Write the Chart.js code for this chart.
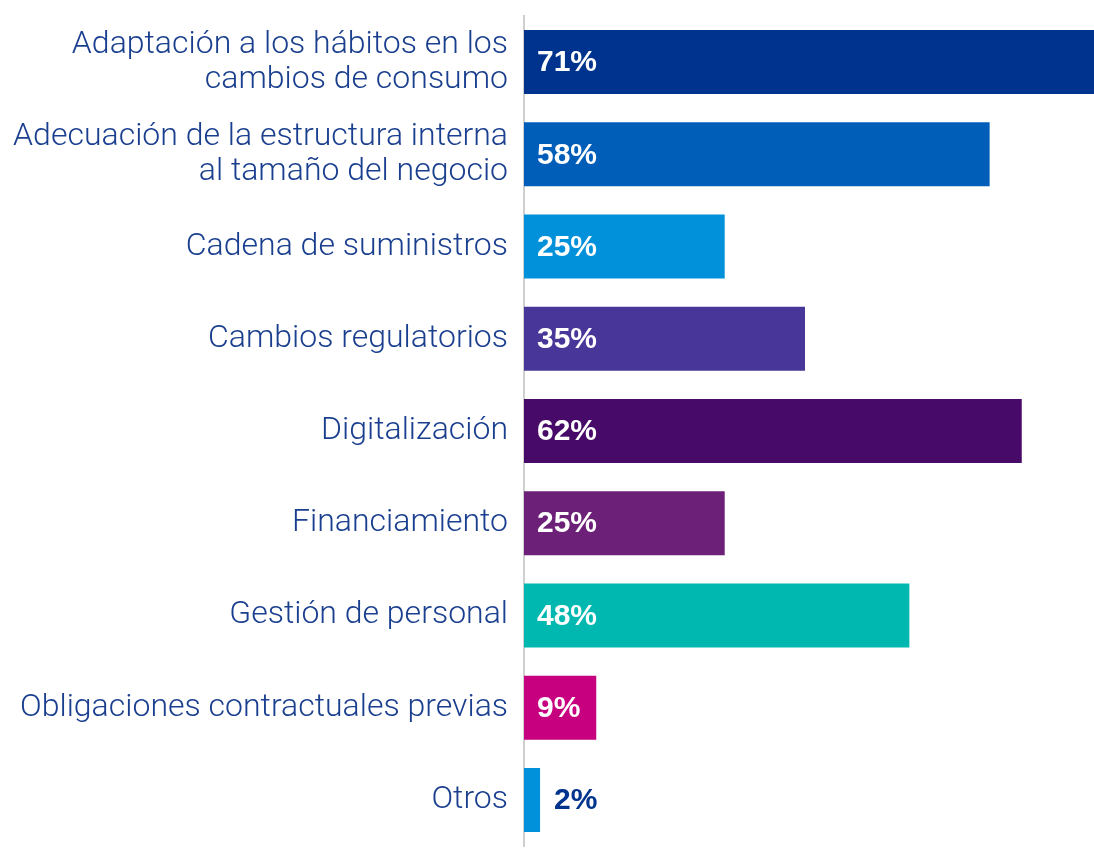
<!DOCTYPE html>
<html>
<head>
<meta charset="utf-8">
<script src="https://cdn.jsdelivr.net/npm/chart.js@4"></script>
<style>
  html, body { margin: 0; padding: 0; background: #fff; }
  #wrap { width: 1094px; height: 851px; position: relative; }
</style>
</head>
<body>
<div id="wrap"><canvas id="chart"></canvas></div>
<script>
// categories and values
const categories = [
  ['Adaptación a los hábitos en los', 'cambios de consumo'],
  ['Adecuación de la estructura interna', 'al tamaño del negocio'],
  'Cadena de suministros',
  'Cambios regulatorios',
  'Digitalización',
  'Financiamiento',
  'Gestión de personal',
  'Obligaciones contractuales previas',
  'Otros'
];
const values = [71, 58, 25, 35, 62, 25, 48, 9, 2];
const barColors = ['#00338D', '#005EB8', '#0091DA', '#483698', '#470A68', '#6D2077', '#00B8B0', '#C6007E', '#0091DA'];

const labelColor = '#1a3f8f';

// value labels: inside the bar in white, outside in navy when the bar is too short
const valueLabels = {
  id: 'valueLabels',
  afterDatasetsDraw(chart) {
    const ctx = chart.ctx;
    const meta = chart.getDatasetMeta(0);
    ctx.save();
    ctx.font = 'bold 30px "Liberation Sans", Arial';
    ctx.textBaseline = 'middle';
    ctx.textAlign = 'left';
    meta.data.forEach((bar, i) => {
      const text = values[i] + '%';
      const w = ctx.measureText(text).width;
      const left = bar.base;
      if (bar.x - left > w + 16) {
        ctx.fillStyle = '#fff';
        ctx.fillText(text, left + 13, bar.y + 1);
      } else {
        ctx.fillStyle = '#00338D';
        ctx.fillText(text, bar.x + 14, bar.y + 1);
      }
    });
    ctx.restore();
  }
};

const ctx = document.getElementById('chart').getContext('2d');
new Chart(ctx, {
  type: 'bar',
  data: {
    labels: categories,
    datasets: [{
      data: values,
      backgroundColor: barColors,
      borderWidth: 0,
      barPercentage: 0.694,
      categoryPercentage: 1.0
    }]
  },
  options: {
    indexAxis: 'y',
    responsive: true,
    maintainAspectRatio: false,
    animation: false,
    layout: { padding: { top: 16, bottom: 5, left: 0, right: 0 } },
    plugins: {
      legend: { display: false },
      tooltip: { enabled: false }
    },
    scales: {
      x: {
        display: false,
        min: 0,
        max: 71
      },
      y: {
        afterFit(scale) {
          scale.width = 524;
          scale.paddingTop = 0;
          scale.paddingBottom = 0;
        },
        grid: { display: false, drawTicks: false },
        border: { display: true, color: '#cfcfcf', width: 2 },
        ticks: {
          padding: 16,
          color: labelColor,
          font: { family: 'Roboto, "Liberation Sans", Arial', weight: 300, size: 32, lineHeight: 1.1 }
        }
      }
    }
  },
  plugins: [valueLabels]
});
</script>
</body>
</html>
